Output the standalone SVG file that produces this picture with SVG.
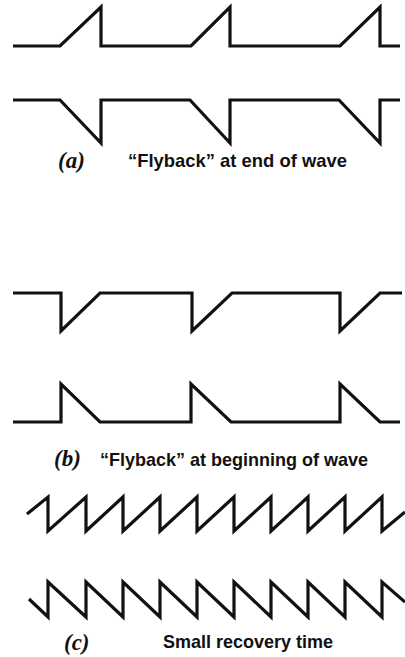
<svg xmlns="http://www.w3.org/2000/svg" width="405" height="657" viewBox="0 0 405 657">
<style>
.w{fill:none;stroke:#111;stroke-width:3.2;stroke-linejoin:miter;stroke-linecap:butt}
.lab{font-family:"Liberation Serif",serif;font-style:italic;font-weight:bold;font-size:23px;fill:#111}
.cap{font-family:"Liberation Sans",Arial,sans-serif;font-weight:bold;font-size:19px;fill:#111}
</style>
<rect width="405" height="657" fill="#fff"/>
<g id="waves">
<path id="a-top" class="w" d="M13,46 H60 L101,7 V46 H191 L230,7 V46 H340 L380,7 V46 H400"/>
<path id="a-bottom" class="w" d="M13,100 H60 L101,143 V100 H190 L230,143 V100 H339 L380,143 V100 H400"/>
<path id="b-top" class="w" d="M13,293 H61 V331 L100,293 H192 V331 L232,293 H340 V331 L380,293 H402"/>
<path id="b-bottom" class="w" d="M13,422 H61 V384 L100,422 H191 V384 L231,422 H340 V384 L380,422 H400"/>
<path id="c-top" class="w" d="M27,514 L48,497 V531 L86,497 V531 L123,497 V531 L160,497 V531 L197,497 V531 L234,497 V531 L271,497 V531 L308,497 V531 L345,497 V531 L382,497 V531 L405,512"/>
<path id="c-bottom" class="w" d="M29,599 L48,617 V582 L86,617 V582 L123,617 V582 L160,617 V582 L197,617 V582 L234,617 V582 L271,617 V582 L308,617 V582 L345,617 V582 L382,617 V582 L405,602"/>
</g>
<g id="label-a">
<text class="lab" x="58" y="168">(a)</text>
<text class="cap" x="128" y="167" textLength="219" lengthAdjust="spacingAndGlyphs">“Flyback” at end of wave</text>
</g>
<g id="label-b">
<text class="lab" x="54" y="466">(b)</text>
<text class="cap" x="100" y="466" textLength="268" lengthAdjust="spacingAndGlyphs">“Flyback” at beginning of wave</text>
</g>
<g id="label-c">
<text class="lab" x="64" y="650">(c)</text>
<text class="cap" x="163" y="648" textLength="170" lengthAdjust="spacingAndGlyphs">Small recovery time</text>
</g>
</svg>
